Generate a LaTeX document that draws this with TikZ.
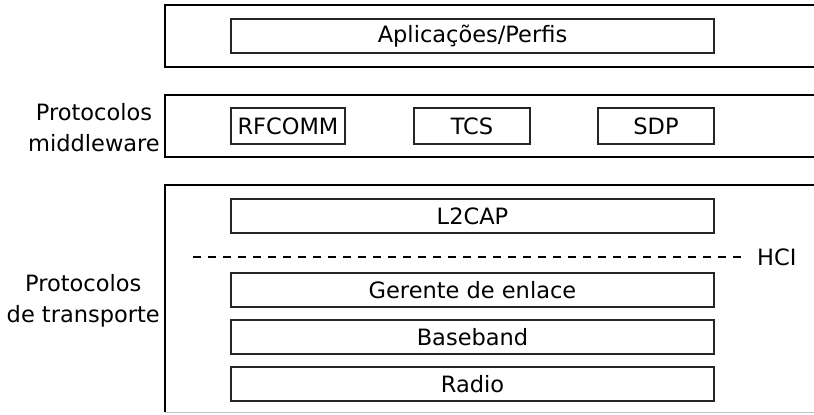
\documentclass[tikz,border=0pt]{standalone}
\usepackage{fontspec}
\setmainfont{DejaVu Sans}
\begin{document}
\begin{tikzpicture}[x=1pt,y=-1pt,
  outer/.style={draw=black,line width=2pt},
  layerbox/.style={draw=black!85,line width=1.4pt,minimum height=34pt,inner sep=0pt,font=\fontsize{22.5}{27}\selectfont},
  sidelabel/.style={align=center,anchor=east,font=\fontsize{22.5}{31}\selectfont,inner sep=0pt},
  hcidash/.style={draw=black,line width=1.4pt,dash pattern=on 8pt off 7pt}]
\useasboundingbox (0,0) rectangle (814,415);
% outer frames (open on the right)
\draw[outer] (822,5) -- (165,5) -- (165,67) -- (822,67);
\draw[outer] (822,95) -- (165,95) -- (165,157) -- (822,157);
\draw[outer] (822,185) -- (165,185) -- (165,412);
\draw[draw=black!25,line width=1.5pt] (165,412.5) -- (822,412.5);
% inner boxes
\node[layerbox,minimum width=483pt] (app) at (472.5,36) {Aplicações/Perfis};
\node[layerbox,minimum width=114pt,minimum height=36pt] (rfcomm) at (288,126) {RFCOMM};
\node[layerbox,minimum width=116pt,minimum height=36pt] (tcs) at (472,126) {TCS};
\node[layerbox,minimum width=116pt,minimum height=36pt] (sdp) at (656,126) {SDP};
\node[layerbox,minimum width=483pt] (l2cap) at (472.5,216) {L2CAP};
\node[layerbox,minimum width=483pt] (lm) at (472.5,290) {Gerente de enlace};
\node[layerbox,minimum width=483pt] (bb) at (472.5,337) {Baseband};
\node[layerbox,minimum width=483pt] (radio) at (472.5,384) {Radio};
% HCI line
\coordinate (hs) at (193,257);
\node[anchor=west,inner sep=0pt,font=\fontsize{22.5}{27}\selectfont] (hci) at (757,257) {HCI};
\draw[hcidash] (hs) -- (hci.west -| 746,0);
% side labels
\node[sidelabel] (mid) at (160,128) {Protocolos\\middleware};
\node[sidelabel] (tra) at (160,301) {Protocolos\\de transporte};
\end{tikzpicture}
\end{document}
